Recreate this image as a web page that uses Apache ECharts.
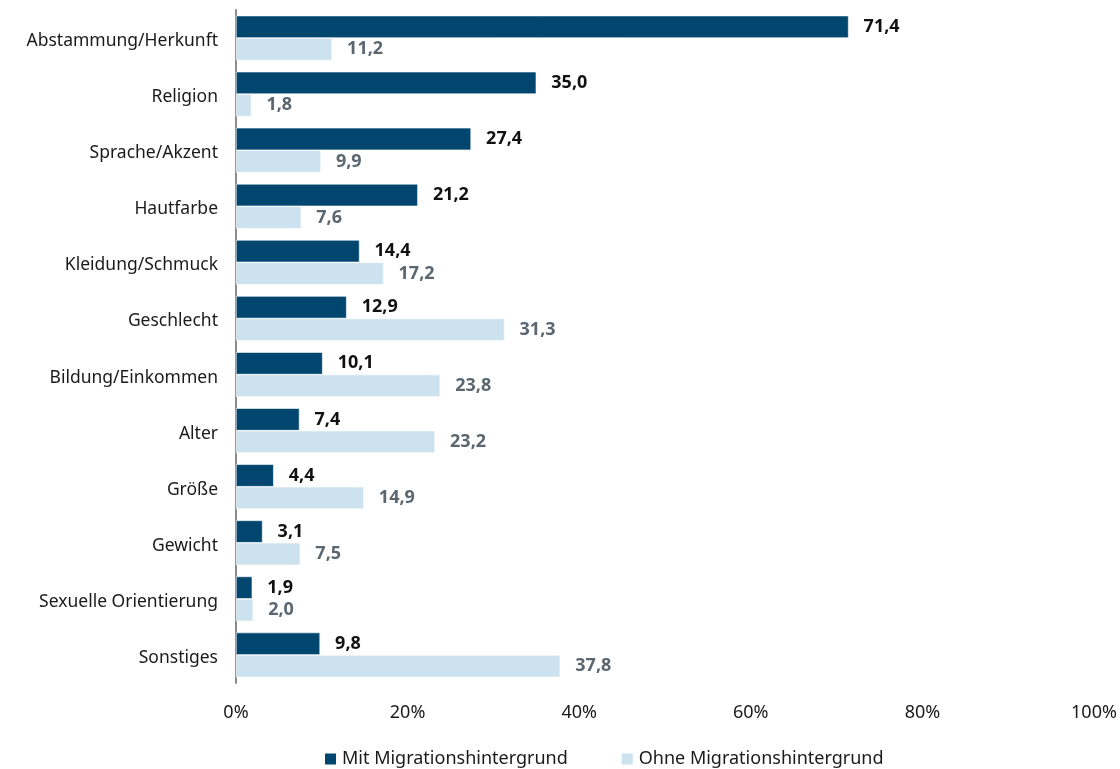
<!DOCTYPE html>
<html>
<head>
<meta charset="utf-8">
<script src="https://cdn.jsdelivr.net/npm/echarts@6/dist/echarts.min.js"></script>
<style>
  html, body { margin: 0; padding: 0; background: #fff; }
  #chart { width: 1120px; height: 769px; }
</style>
</head>
<body>
<div id="chart"></div>
<script>
// Gründe für erlebte Diskriminierung, Anteile in Prozent
const categories = [
  'Abstammung/Herkunft', 'Religion', 'Sprache/Akzent', 'Hautfarbe',
  'Kleidung/Schmuck', 'Geschlecht', 'Bildung/Einkommen', 'Alter',
  'Größe', 'Gewicht', 'Sexuelle Orientierung', 'Sonstiges'
];
const mitMigration  = [71.4, 35.0, 27.4, 21.2, 14.4, 12.9, 10.1, 7.4, 4.4, 3.1, 1.9, 9.8];
const ohneMigration = [11.2, 1.8, 9.9, 7.6, 17.2, 31.3, 23.8, 23.2, 14.9, 7.5, 2.0, 37.8];
const seriesNames = ['Mit Migrationshintergrund', 'Ohne Migrationshintergrund'];

const FONT = '"Noto Sans", sans-serif';
const fmt = v => v.toFixed(1).replace('.', ',');

const chart = echarts.init(document.getElementById('chart'));
chart.setOption({
  animation: false,
  textStyle: { fontFamily: FONT },
  grid: { left: 236, right: 26, top: 10, bottom: 86, containLabel: false },
  legend: {
    top: 745,
    left: 318,
    itemWidth: 13,
    itemHeight: 13,
    itemGap: 52,
    icon: 'rect',
    textStyle: { fontFamily: FONT, fontSize: 18, color: '#1a1a1a' },
    data: seriesNames
  },
  xAxis: {
    type: 'value',
    min: 0,
    max: 100,
    interval: 20,
    axisLabel: { formatter: '{value}%', fontFamily: FONT, fontSize: 18, color: '#1a1a1a', margin: 21 },
    axisLine: { show: false },
    axisTick: { show: false },
    splitLine: { show: false }
  },
  yAxis: {
    type: 'category',
    inverse: true,
    data: categories,
    axisLine: { show: true, lineStyle: { color: '#8c8c8c', width: 2 } },
    axisTick: { show: false },
    axisLabel: {
      margin: 18,
      formatter: v => '{c|' + v + '}',
      rich: {
        c: { fontFamily: FONT, fontSize: 17.5, color: '#1a1a1a', padding: [6, 0, 0, 0] }
      }
    }
  },
  series: [
    {
      name: seriesNames[0],
      type: 'bar',
      data: mitMigration,
      barGap: '0%',
      barCategoryGap: '20%',
      itemStyle: { color: '#00466f', borderColor: '#ffffff', borderWidth: 0.6 },
      label: {
        show: true, position: 'right', distance: 15,
        formatter: p => fmt(p.value),
        fontFamily: FONT, fontSize: 18, fontWeight: 'bold', color: '#111111'
      }
    },
    {
      name: seriesNames[1],
      type: 'bar',
      data: ohneMigration,
      barGap: '0%',
      barCategoryGap: '20%',
      itemStyle: { color: '#cce3ef', borderColor: '#ffffff', borderWidth: 0.6 },
      label: {
        show: true, position: 'right', distance: 15,
        formatter: p => fmt(p.value),
        fontFamily: FONT, fontSize: 18, fontWeight: 'bold', color: '#5b6770'
      }
    }
  ]
});
</script>
</body>
</html>
